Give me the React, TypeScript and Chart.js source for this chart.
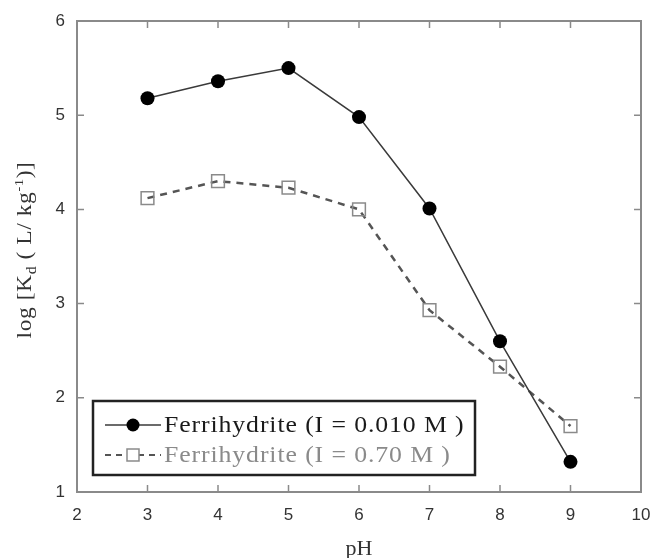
import React, { useEffect, useRef } from "react";
import { Chart, registerables } from "chart.js";

Chart.register(...registerables);

const phValues = [3, 4, 5, 6, 7, 8, 9];
const kdLowIonic = [5.18, 5.36, 5.5, 4.98, 4.01, 2.6, 1.32];
const kdHighIonic = [4.12, 4.3, 4.23, 4.0, 2.93, 2.33, 1.7];
const seriesLabels = ["Ferrihydrite (I = 0.010 M )", "Ferrihydrite (I = 0.70 M )"];
const xTickValues = [2, 3, 4, 5, 6, 7, 8, 9, 10];
const yTickValues = [1, 2, 3, 4, 5, 6];
const xTitle = "pH";

const SERIF = '"Liberation Serif", "Times New Roman", serif';
const SANS = '"Liberation Sans", Arial, sans-serif';
const STRETCH = 1.12;

const framePlugin = {
  id: "frameTicks",
  afterDatasetsDraw(chart: any) {
    const { ctx, chartArea: a, scales } = chart;
    const xs = scales.x;
    const ys = scales.y;
    ctx.save();
    ctx.strokeStyle = "#8a8a8a";
    ctx.lineWidth = 2;
    ctx.strokeRect(a.left, a.top, a.right - a.left, a.bottom - a.top);
    ctx.lineWidth = 1.5;
    const tl = 7;
    ctx.beginPath();
    xTickValues.forEach((v) => {
      if (v === xTickValues[0] || v === xTickValues[xTickValues.length - 1]) return;
      const px = xs.getPixelForValue(v);
      ctx.moveTo(px, a.bottom);
      ctx.lineTo(px, a.bottom - tl);
      ctx.moveTo(px, a.top);
      ctx.lineTo(px, a.top + tl);
    });
    yTickValues.forEach((v) => {
      if (v === yTickValues[0] || v === yTickValues[yTickValues.length - 1]) return;
      const py = ys.getPixelForValue(v);
      ctx.moveTo(a.left, py);
      ctx.lineTo(a.left + tl, py);
      ctx.moveTo(a.right, py);
      ctx.lineTo(a.right - tl, py);
    });
    ctx.stroke();
    ctx.restore();
  },
};

const legendPlugin = {
  id: "boxLegend",
  afterDraw(chart: any) {
    const { ctx, chartArea: a } = chart;
    const left = a.left + 16;
    const top = a.top + 380;
    const w = 382;
    const h = 74;
    ctx.save();
    ctx.fillStyle = "#ffffff";
    ctx.fillRect(left, top, w, h);
    ctx.strokeStyle = "#222";
    ctx.lineWidth = 2.5;
    ctx.strokeRect(left, top, w, h);
    const rows = [top + 24, top + 54];
    const textColors = ["#1a1a1a", "#8a8a8a"];
    chart.data.datasets.forEach((ds: any, i: number) => {
      const y = rows[i];
      const x0 = left + 12;
      const x1 = left + 68;
      ctx.save();
      ctx.strokeStyle = ds.borderColor;
      ctx.lineWidth = i === 0 ? 1.5 : 2;
      ctx.setLineDash(i === 0 ? [] : [6, 5]);
      ctx.beginPath();
      ctx.moveTo(x0, y);
      ctx.lineTo(x1, y);
      ctx.stroke();
      ctx.restore();
      const cx = (x0 + x1) / 2;
      if (i === 0) {
        ctx.fillStyle = "#000";
        ctx.beginPath();
        ctx.arc(cx, y, 6.5, 0, Math.PI * 2);
        ctx.fill();
      } else {
        ctx.fillStyle = "#fff";
        ctx.fillRect(cx - 6, y - 6, 12, 12);
        ctx.strokeStyle = "#8a8a8a";
        ctx.lineWidth = 1.5;
        ctx.strokeRect(cx - 6, y - 6, 12, 12);
      }
      ctx.save();
      ctx.translate(x1 + 3, y + 1);
      ctx.scale(STRETCH, 1);
      ctx.fillStyle = textColors[i];
      ctx.font = `23px ${SERIF}`;
      (ctx as any).letterSpacing = "0.8px";
      ctx.textBaseline = "middle";
      ctx.textAlign = "left";
      ctx.fillText(ds.label, 0, 0);
      ctx.restore();
    });
    ctx.restore();
  },
};

const titlesPlugin = {
  id: "axisTitles",
  afterDraw(chart: any) {
    const { ctx, chartArea: a } = chart;
    ctx.save();
    ctx.fillStyle = "#333";
    ctx.font = `22px ${SERIF}`;
    ctx.textAlign = "center";
    ctx.textBaseline = "middle";
    ctx.fillText(xTitle, (a.left + a.right) / 2, 549);

    const parts = [
      { t: "log [K", size: 21, dy: 0 },
      { t: "d", size: 14, dy: 5 },
      { t: " ( L/ kg", size: 21, dy: 0 },
      { t: "-1", size: 13, dy: -8 },
      { t: ")]", size: 21, dy: 0 },
    ];
    (ctx as any).letterSpacing = "0.5px";
    let total = 0;
    parts.forEach((p) => {
      ctx.font = `${p.size}px ${SERIF}`;
      total += ctx.measureText(p.t).width;
    });
    ctx.translate(24, 250);
    ctx.rotate(-Math.PI / 2);
    ctx.scale(STRETCH, 1);
    ctx.textAlign = "left";
    ctx.textBaseline = "alphabetic";
    let x = -total / 2;
    parts.forEach((p) => {
      ctx.font = `${p.size}px ${SERIF}`;
      ctx.fillText(p.t, x, 7 + p.dy);
      x += ctx.measureText(p.t).width;
    });
    ctx.restore();
  },
};

export default function App() {
  const ref = useRef<HTMLCanvasElement>(null);
  useEffect(() => {
    document.body.style.margin = "0";
    const canvas = ref.current!;
    const chart = new Chart(canvas, {
      type: "line",
      data: {
        datasets: [
          {
            label: seriesLabels[0],
            data: phValues.map((x, i) => ({ x, y: kdLowIonic[i] })),
            borderColor: "#3a3a3a",
            borderWidth: 1.5,
            pointStyle: "circle",
            pointRadius: 7,
            pointBackgroundColor: "#000",
            pointBorderColor: "#000",
            pointBorderWidth: 0,
            fill: false,
            tension: 0,
          },
          {
            label: seriesLabels[1],
            data: phValues.map((x, i) => ({ x, y: kdHighIonic[i] })),
            borderColor: "#555",
            borderWidth: 2.5,
            borderDash: [7, 6],
            pointStyle: "rect",
            pointRadius: 9,
            pointBackgroundColor: "rgba(255,255,255,0)",
            pointBorderColor: "#8a8a8a",
            pointBorderWidth: 1.5,
            fill: false,
            tension: 0,
          },
        ],
      },
      options: {
        animation: false,
        responsive: false,
        layout: { padding: { top: 21, right: 12, left: 0, bottom: 0 } },
        plugins: {
          legend: { display: false },
          tooltip: { enabled: false },
        },
        scales: {
          x: {
            type: "linear",
            min: 2,
            max: 10,
            afterFit: (s: any) => {
              s.height = 66;
              s.paddingLeft = 0;
              s.paddingRight = 0;
            },
            afterBuildTicks: (s: any) => {
              s.ticks = xTickValues.map((v) => ({ value: v }));
            },
            grid: { display: false },
            border: { display: false },
            ticks: {
              padding: 5,
              color: "#333",
              font: { family: SANS, size: 17 },
              maxRotation: 0,
              autoSkip: false,
            },
          },
          y: {
            type: "linear",
            min: 1,
            max: 6,
            afterFit: (s: any) => {
              s.width = 77;
              s.paddingTop = 0;
              s.paddingBottom = 0;
            },
            afterBuildTicks: (s: any) => {
              s.ticks = yTickValues.map((v) => ({ value: v }));
            },
            grid: { display: false },
            border: { display: false },
            ticks: {
              padding: 4,
              color: "#333",
              font: { family: SANS, size: 17 },
              autoSkip: false,
            },
          },
        },
      },
      plugins: [framePlugin, legendPlugin, titlesPlugin],
    } as any);
    return () => chart.destroy();
  }, []);
  return (
    <div style={{ width: 653, height: 558 }}>
      <canvas ref={ref} width={653} height={558} style={{ display: "block" }} />
    </div>
  );
}
